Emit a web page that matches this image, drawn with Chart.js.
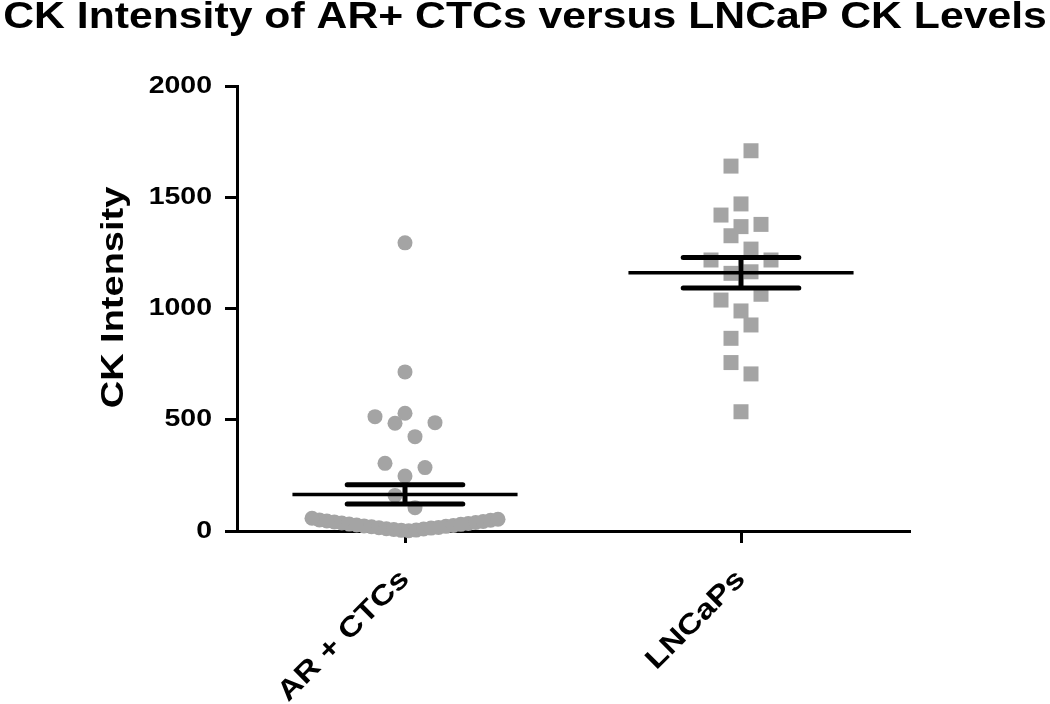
<!DOCTYPE html>
<html><head><meta charset="utf-8">
<script src="https://cdn.jsdelivr.net/npm/chart.js@4"></script>
<style>html,body{margin:0;padding:0;background:#fff;overflow:hidden}#wrap{width:1050px;height:704px}</style>
</head><body><div id="wrap"><canvas id="c" width="1050" height="704"></canvas></div>
<script>
const titleText = 'CK Intensity of AR+ CTCs versus LNCaP CK Levels';
const yAxisTitle = 'CK Intensity';
const categories = ['AR + CTCs', 'LNCaPs'];
const yTickValues = [0, 500, 1000, 1500, 2000];
// values (order inside a column = data entry order)
const arCtcValues = [1, 3, 4, 7, 9, 10, 13, 15, 16, 19, 21, 23, 25, 27, 30, 31, 34, 36, 38, 41, 43, 45, 48, 50, 53, 57,
  105, 160, 247, 285, 304, 424, 484, 487, 514, 529, 715, 1295];
const lncapValues = [536, 706, 757, 926, 866, 989, 1064, 1038, 1165, 1158, 1218, 1218, 1267, 1327,
  1368, 1378, 1420, 1470, 1709, 1640];

const FONT = '"Liberation Sans", Arial, sans-serif';
const BLACK = '#000000';
const GRAY = '#a4a4a4';
const TEXT_STRETCH = 1.187;   // the reference lettering is widened along its baseline
const Y_TICK_PAD = 13, TICK_LEN = 12, Y_TITLE_PAD = 95, Y_TITLE_SHIFT = -11;

function meanSem(vals) {
  const n = vals.length;
  const m = vals.reduce((a, b) => a + b, 0) / n;
  const sd = Math.sqrt(vals.reduce((a, b) => a + (b - m) * (b - m), 0) / (n - 1));
  return { mean: m, sem: sd / Math.sqrt(n) };
}

// column-scatter layout: values close in height share a row and are spread sideways
function swarmOffsets(vals, yScale, binPx, stepPx, maxHalfPx) {
  const idx = vals.map((v, i) => i).sort((a, b) => vals[a] - vals[b] || a - b);
  const bins = [];
  let cur = null, startPx = 0;
  for (const i of idx) {
    const py = yScale.getPixelForValue(vals[i]);
    if (cur && Math.abs(startPx - py) <= binPx) cur.push(i);
    else { cur = [i]; bins.push(cur); startPx = py; }
  }
  const off = new Array(vals.length).fill(0);
  for (const bin of bins) {
    bin.sort((a, b) => a - b);
    const n = bin.length;
    const step = n > 1 ? Math.min(stepPx, 2 * maxHalfPx / (n - 1)) : 0;
    bin.forEach((i, k) => {
      let m;
      if (n % 2) m = k === 0 ? 0 : Math.ceil(k / 2) * (k % 2 ? 1 : -1);
      else m = (Math.floor(k / 2) + 0.5) * (k % 2 ? -1 : 1);
      off[i] = m * step;
    });
  }
  return off;
}

const groups = [arCtcValues, lncapValues];

const errorBars = {
  id: 'errorBars',
  afterDatasetsDraw(chart) {
    const { ctx, scales: { x, y } } = chart;
    const spacing = x.getPixelForValue(1) - x.getPixelForValue(0);
    ctx.save();
    ctx.strokeStyle = BLACK;
    groups.forEach((vals, gi) => {
      const { mean, sem } = meanSem(vals);
      const cx = x.getPixelForValue(gi);
      const ym = y.getPixelForValue(mean);
      const yt = y.getPixelForValue(mean + sem);
      const yb = y.getPixelForValue(mean - sem);
      const mh = spacing * 0.335, ch = spacing * 0.172;
      ctx.lineCap = 'butt';
      ctx.lineWidth = 3.5;
      ctx.beginPath(); ctx.moveTo(cx - mh, ym); ctx.lineTo(cx + mh, ym); ctx.stroke();
      ctx.lineWidth = 5;
      ctx.beginPath(); ctx.moveTo(cx, yt); ctx.lineTo(cx, yb); ctx.stroke();
      ctx.lineCap = 'round';
      ctx.beginPath(); ctx.moveTo(cx - ch, yt); ctx.lineTo(cx + ch, yt); ctx.stroke();
      ctx.beginPath(); ctx.moveTo(cx - ch, yb); ctx.lineTo(cx + ch, yb); ctx.stroke();
    });
    ctx.restore();
  }
};

const yTitleFont = { family: FONT, size: 32, weight: 'bold', lineHeight: 1.2 };

const chart = new Chart(document.getElementById('c'), {
  type: 'scatter',
  data: {
    datasets: [
      { label: categories[0], data: arCtcValues.map(v => ({ x: 0, y: v })), pointStyle: 'circle',
        pointRadius: 7.5, pointHoverRadius: 7.5, backgroundColor: GRAY, borderWidth: 0, clip: false },
      { label: categories[1], data: lncapValues.map(v => ({ x: 1, y: v })), pointStyle: 'rect',
        pointRadius: 10.6, pointHoverRadius: 10.6, backgroundColor: GRAY, borderWidth: 0, clip: false }
    ]
  },
  options: {
    responsive: false, animation: false, devicePixelRatio: 1,
    events: [],
    layout: { padding: 0 },
    plugins: {
      legend: { display: false }, tooltip: { enabled: false },
      title: { display: true, text: titleText, color: BLACK,
        font: { family: FONT, size: 36, weight: 'bold', lineHeight: 1 },
        padding: { top: 0, bottom: 50 } }
    },
    scales: {
      x: {
        type: 'linear', min: -0.5, max: 1.5,
        afterBuildTicks: s => { s.ticks = categories.map((c, i) => ({ value: i })); },
        afterFit: s => { s.height = 173; },
        ticks: { callback: v => categories[v] ?? '', color: BLACK, minRotation: 45, maxRotation: 45,
          autoSkip: false, padding: 20, font: { family: FONT, size: 28, weight: 'bold' } },
        grid: { drawOnChartArea: false, drawTicks: true, tickLength: TICK_LEN, lineWidth: 3, color: BLACK },
        border: { display: true, width: 3, color: BLACK }
      },
      y: {
        type: 'linear', min: 0, max: 2000,
        afterBuildTicks: s => { s.ticks = yTickValues.map(v => ({ value: v })); },
        afterFit: s => { s.width = 237; },
        ticks: { callback: v => String(v), color: BLACK, padding: Y_TICK_PAD,
          font: { family: FONT, size: 24, weight: 'bold' } },
        grid: { drawOnChartArea: false, drawTicks: true, tickLength: TICK_LEN, lineWidth: 3, color: BLACK },
        border: { display: true, width: 3, color: BLACK },
        title: { display: true, text: yAxisTitle, color: BLACK, padding: { top: Y_TITLE_PAD, bottom: 0 },
          font: yTitleFont }
      },
      // empty right-hand margin so the plot ends where the reference does
      margin: {
        type: 'linear', position: 'right', display: true,
        afterFit: s => { s.width = 141; },
        grid: { display: false, drawTicks: false }, border: { display: false }, ticks: { display: false }
      }
    }
  },
  plugins: [errorBars]
});

(function applySwarm() {
  const xs = chart.scales.x, ys = chart.scales.y;
  const unitPx = xs.getPixelForValue(1) - xs.getPixelForValue(0);
  groups.forEach((vals, gi) => {
    const off = swarmOffsets(vals, ys, 21.5, 20, 93);
    chart.data.datasets[gi].data = vals.map((v, i) => ({ x: gi + off[i] / unitPx, y: v }));
  });
  chart.update('none');
})();

// widen horizontal lettering around each text block's anchor
function widen(target, name, anchorX) {
  const orig = target[name];
  target[name] = function (...args) {
    const ctx = this.ctx, ax = anchorX(this);
    ctx.save();
    ctx.translate(ax, 0); ctx.scale(TEXT_STRETCH, 1); ctx.translate(-ax, 0);
    const r = orig.apply(this, args);
    ctx.restore();
    return r;
  };
}
// widen rotated lettering along its own baseline (after the library rotates it)
function widenRotated(target, name, dy = 0) {
  const orig = target[name];
  target[name] = function (...args) {
    const ctx = this.ctx;
    ctx.save();
    ctx.translate(0, dy);
    ctx.rotate = function (a) { CanvasRenderingContext2D.prototype.rotate.call(this, a); this.scale(TEXT_STRETCH, 1); };
    try { return orig.apply(this, args); } finally { delete ctx.rotate; ctx.restore(); }
  };
}
widen(chart.titleBlock, 'draw', b => (b.left + b.right) / 2);
widen(chart.scales.y, 'drawLabels', s => s.right - TICK_LEN - Y_TICK_PAD);
widenRotated(chart.scales.y, 'drawTitle', Y_TITLE_SHIFT);
widenRotated(chart.scales.x, 'drawLabels');
chart.draw();
</script></body></html>
